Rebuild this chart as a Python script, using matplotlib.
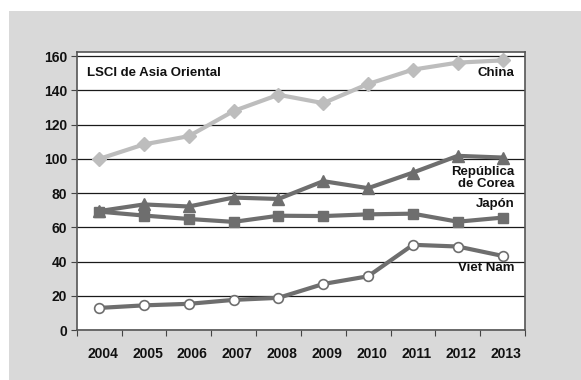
import matplotlib
matplotlib.use("Agg")
import matplotlib.pyplot as plt
import matplotlib.transforms as mtransforms
from matplotlib.patches import Rectangle

years = ["2004", "2005", "2006", "2007", "2008", "2009", "2010", "2011", "2012", "2013"]
china = [100.0, 108.5, 113.3, 128.0, 137.5, 132.6, 143.8, 152.2, 156.3, 157.6]
corea = [69.5, 73.4, 72.2, 77.4, 76.6, 87.0, 82.9, 92.0, 101.8, 100.8]
japon = [69.2, 66.9, 64.9, 63.2, 66.8, 66.6, 67.6, 68.0, 63.3, 65.7]
vietnam = [12.9, 14.4, 15.3, 17.6, 18.8, 26.9, 31.4, 49.8, 48.8, 43.3]

plt.rcParams['font.family'] = ['Liberation Sans', 'DejaVu Sans']
plt.rcParams['font.weight'] = 'bold'

fig = plt.figure(figsize=(5.81, 3.80), dpi=100)
fig.patch.set_facecolor('white')
fig.patches.append(Rectangle((9/581, 0), 1, (380-11)/380, transform=fig.transFigure,
                             facecolor='#d9d9d9', edgecolor='none', zorder=-10))

ax = fig.add_axes([76.7/581, 50/380, (525-76.7)/581, (330-52)/380])
ax.set_zorder(1)
ax.set_facecolor('white')
x = list(range(len(years)))

dark = '#6e6e6e'
light = '#bdbdbd'
ax.plot(x, china, color=light, lw=3, marker='D', ms=7, mfc=light, mec=light, zorder=3)
ax.plot(x, corea, color=dark, lw=3, marker='^', ms=9, mfc=dark, mec=dark, zorder=4)
ax.plot(x, japon, color=dark, lw=3, marker='s', ms=6.5, mfc=dark, mec=dark, zorder=4)
ax.plot(x, vietnam, color=dark, lw=3, marker='o', ms=7, mfc='white', mec=dark, mew=1.2, zorder=4)

ax.set_xlim(-0.5, 9.5)
ax.set_ylim(0, 162.5)
ax.set_yticks(range(0, 161, 20))
ax.set_xticks([i - 0.5 for i in range(11)], minor=False)
ax.set_xticklabels([])
ax.set_xticks(x, minor=True)
ax.set_xticklabels(years, minor=True)
ax.tick_params(axis='x', which='minor', length=0, pad=12, labelsize=10)
ax.tick_params(axis='x', which='major', length=4, direction='out', color='#444')
ax.tick_params(axis='y', length=4, direction='out', color='#444', labelsize=10, pad=3)
offset = mtransforms.ScaledTranslation(0.035, 0, fig.dpi_scale_trans)
for lbl in ax.get_xticklabels(minor=True):
    lbl.set_transform(lbl.get_transform() + offset)
for lbl in ax.get_xticklabels(minor=True) + ax.get_yticklabels():
    lbl.set_fontweight('bold')
    lbl.set_color('#111')
ax.yaxis.grid(True, color='#1a1a1a', lw=0.9)
ax.set_axisbelow(True)
for s in ax.spines.values():
    s.set_color('#555555')
    s.set_linewidth(1.2)

tkw = dict(fontsize=9.5, fontweight='bold', color='#111', ha='right', va='center')
ax.text(-0.27, 150.5, "LSCI de Asia Oriental", fontsize=9.5, fontweight='bold', color='#111', ha='left', va='center')
ax.text(9.27, 150.5, "China", **tkw)
ax.text(9.27, 88.8, "República\nde Corea", linespacing=1.0, **tkw)
ax.text(9.27, 73.6, "Japón", **tkw)
ax.text(9.27, 36.2, "Viet Nam", **tkw)

fig.savefig("out.png", dpi=100)
